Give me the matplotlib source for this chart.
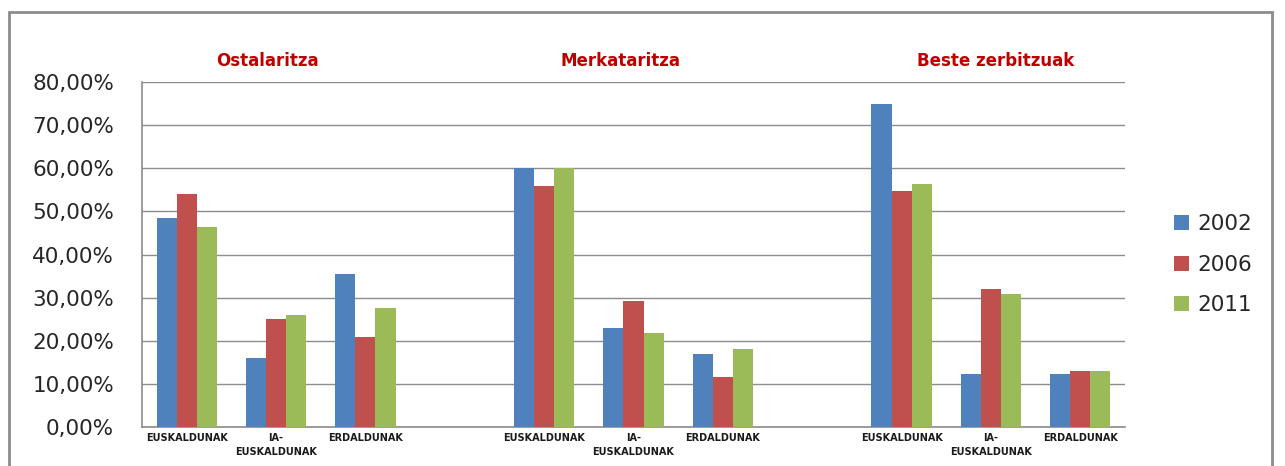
import matplotlib.pyplot as plt
import numpy as np
from matplotlib.patches import Rectangle
from matplotlib.ticker import FuncFormatter

# datuak
sectors = ["Ostalaritza", "Merkataritza", "Beste zerbitzuak"]
groups = ["EUSKALDUNAK", "IA-\nEUSKALDUNAK", "ERDALDUNAK"]
years = ["2002", "2006", "2011"]

v2002 = [48.4, 16.0, 35.5, 60.0, 23.0, 16.9, 74.9, 12.4, 12.4]
v2006 = [54.0, 25.0, 20.9, 56.0, 29.3, 11.7, 54.8, 32.0, 13.0]
v2011 = [46.4, 26.0, 27.5, 60.0, 21.8, 18.0, 56.4, 30.8, 13.0]

colors = ["#4F81BD", "#C0504D", "#9BBB59"]

fig = plt.figure(figsize=(12.85, 4.66), dpi=100)
fig.patches.append(Rectangle((0.007, -0.05), 0.983, 1.025, transform=fig.transFigure,
                             fill=False, edgecolor="#8c8c8c", linewidth=2.0))
ax = fig.add_axes([0.1105, 0.0837, 0.765, 0.740])

# 3 kategoria sektore bakoitzeko, tarte huts bat artean
pos = np.array([0, 1, 2, 4, 5, 6, 8, 9, 10])
w = 0.225
for i, (vals, yr) in enumerate(zip([v2002, v2006, v2011], years)):
    ax.bar(pos + (i - 1) * w, vals, w, color=colors[i], label=yr, zorder=3)

ax.set_xlim(-0.5, 10.5)
ax.set_ylim(0, 80)
ax.set_yticks(np.arange(0, 81, 10))
ax.yaxis.set_major_formatter(FuncFormatter(lambda v, p: f"{v:.2f}%".replace(".", ",")))
ax.tick_params(axis="y", labelsize=15.5, length=0, pad=20, labelcolor="#262626")
ax.grid(axis="y", color="#8c8c8c", linewidth=1.0, zorder=0)

ax.set_xticks(pos)
ax.set_xticklabels(groups * 3, fontsize=7, fontweight="bold", color="#1a1a1a",
                   va="top", linespacing=1.6)
ax.tick_params(axis="x", length=0, pad=4)

for s in ["top", "right"]:
    ax.spines[s].set_visible(False)
for s in ["left", "bottom"]:
    ax.spines[s].set_color("#8c8c8c")
    ax.spines[s].set_linewidth(1.2)

title_x = [0.9, 4.85, 9.05]
for name, tx in zip(sectors, title_x):
    ax.text(tx, 1.06, name, transform=ax.get_xaxis_transform(), ha="center", va="center",
            color="#C00000", fontsize=12, fontweight="bold")

leg = ax.legend(loc="center left", bbox_to_anchor=(1.03, 0.47), frameon=False,
                fontsize=15.5, handlelength=0.7, handleheight=0.7, labelspacing=0.95,
                handletextpad=0.4)
for t in leg.get_texts():
    t.set_color("#262626")

fig.savefig("out.png", dpi=100)
